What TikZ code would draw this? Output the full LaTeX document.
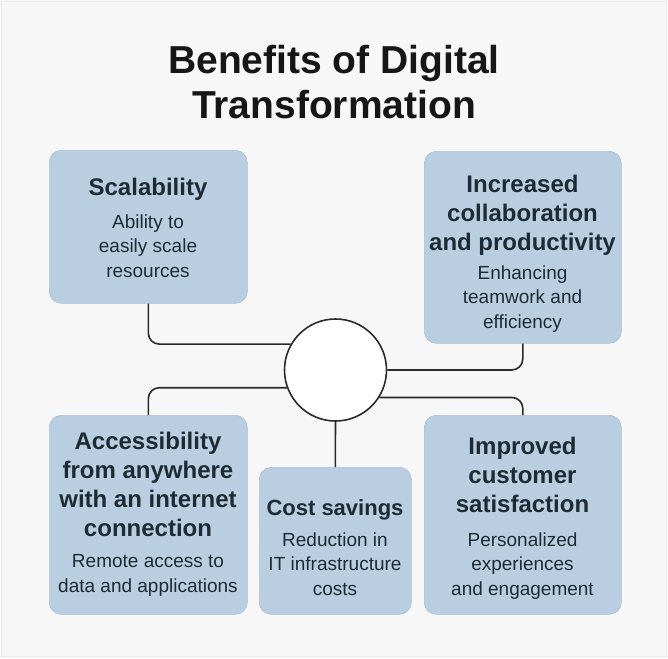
\documentclass[tikz,border=0pt]{standalone}
\usepackage{fontspec}
\setmainfont{Liberation Sans}
\usetikzlibrary{positioning}

\definecolor{pagebg}{HTML}{F7F7F7}
\definecolor{pageedge}{HTML}{ECECEC}
\definecolor{cardfill}{HTML}{B9CFE1}
\definecolor{cardedge}{HTML}{A9C1D6}
\definecolor{cardtext}{HTML}{1E2A34}
\definecolor{titletext}{HTML}{161616}
\definecolor{wire}{HTML}{2A2A2A}

% multi-line nodes are placed by the baseline of their last line
\tikzset{
  card/.style={rectangle, rounded corners=12pt, fill=cardfill, draw=cardedge,
    line width=0.6pt, inner sep=0pt, anchor=north west},
  cardhead/.style={anchor=base, align=center, text=cardtext,
    font=\fontsize{24}{29}\selectfont\bfseries, inner sep=0pt},
  cardbody/.style={anchor=base, align=center, text=cardtext,
    font=\fontsize{19}{24.5}\selectfont, inner sep=0pt},
  wireline/.style={draw=wire, line width=1.6pt, rounded corners=11pt},
  hubstyle/.style={circle, draw=wire, line width=1.6pt, fill=white,
    minimum size=102pt, inner sep=0pt}
}

\begin{document}
\begin{tikzpicture}[x=1pt, y=-1pt]
  % page
  \fill[pagebg] (0,0) rectangle (668,658);
  \draw[pageedge, line width=1pt] (1.5,1.5) rectangle (666.5,656.5);
  \useasboundingbox (0,0) rectangle (668,658);

  % title
  \node[anchor=base, align=center, text=titletext, inner sep=0pt,
    font=\fontsize{39}{45}\selectfont\bfseries] (title) at (334,118)
    {Benefits of Digital\\Transformation};

  % cards
  \node[card, minimum width=198pt, minimum height=153pt] (scal) at (49,150) {};
  \node[card, minimum width=197pt, minimum height=192pt] (collab) at (424,151) {};
  \node[card, minimum width=198pt, minimum height=199pt] (access) at (49,415) {};
  \node[card, minimum width=152pt, minimum height=147pt] (cost) at (259,467) {};
  \node[card, minimum width=197pt, minimum height=199pt] (cust) at (424,415) {};

  % hub
  \node[hubstyle] (hub) at (335.5,370) {};

  % connectors
  \draw[wireline] (scal.south) |- (hub.150.6);
  \draw[wireline] (collab.south) |- (hub.east);
  \draw[wireline] (access.north) |- (hub.200.7);
  \draw[wireline] (cust.north) |- (hub.328);
  \draw[wireline] (hub.south) -- (cost.north);

  % card texts
  \node[cardhead] (scal-h) at (148,195) {Scalability};
  \node[cardbody] (scal-b) at (148,277) {Ability to\\easily scale\\resources};

  \node[cardhead] (collab-h) at (522.5,250) {Increased\\collaboration\\and productivity};
  \node[cardbody] (collab-b) at (522.5,328) {Enhancing\\teamwork and\\efficiency};

  \node[cardhead] (access-h) at (148,536) {Accessibility\\from anywhere\\with an internet\\connection};
  \node[cardbody] (access-b) at (148,592) {Remote access to\\data and applications};

  \node[cardhead, font=\fontsize{22}{29}\selectfont\bfseries] (cost-h) at (335,515) {Cost savings};
  \node[cardbody] (cost-b) at (335,595) {Reduction in\\IT infrastructure\\costs};

  \node[cardhead] (cust-h) at (522.5,512) {Improved\\customer\\satisfaction};
  \node[cardbody] (cust-b) at (522.5,595) {Personalized\\experiences\\and engagement};
\end{tikzpicture}
\end{document}
